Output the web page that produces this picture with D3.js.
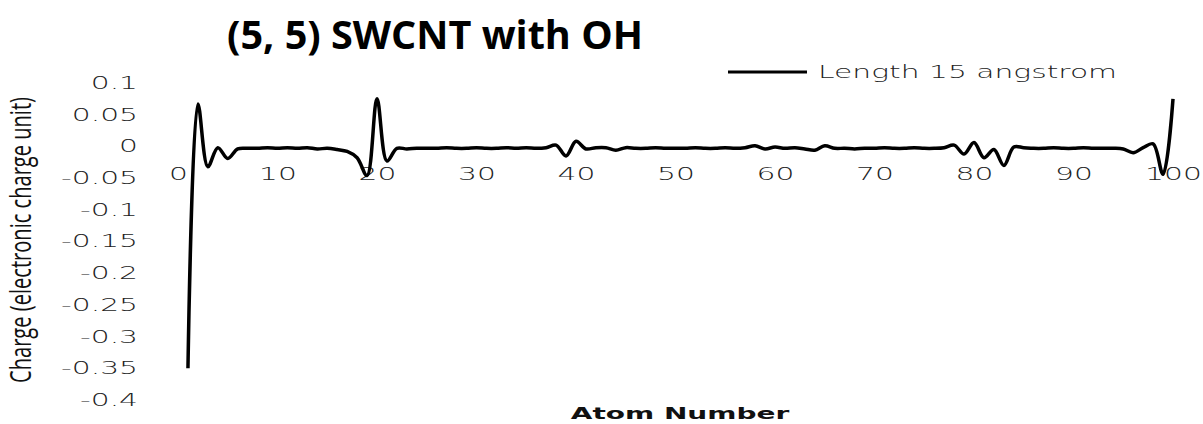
<!DOCTYPE html>
<html>
<head>
<meta charset="utf-8">
<script src="https://cdn.jsdelivr.net/npm/d3@7"></script>
<style>
  body { margin: 0; background: #fff; }
  svg { display: block; }
</style>
</head>
<body>
<div id="main"></div>
<script>
// chart data
const atomNumbers = d3.range(1, 101);
const charges = [
  -0.350, 0.067, -0.032, -0.002, -0.019, -0.004, -0.003, -0.003, -0.002, -0.003,
  -0.002, -0.003, -0.002, -0.004, -0.003, -0.005, -0.008, -0.018, -0.046, 0.075,
  -0.023, -0.003, -0.004, -0.003, -0.003, -0.003, -0.002, -0.003, -0.003, -0.002,
  -0.003, -0.003, -0.002, -0.003, -0.002, -0.003, -0.002, 0.002, -0.015, 0.008,
  -0.004, -0.002, -0.002, -0.006, -0.002, -0.003, -0.003, -0.002, -0.003, -0.003,
  -0.003, -0.002, -0.003, -0.003, -0.002, -0.003, -0.002, 0.001, -0.004, -0.001,
  -0.003, -0.002, -0.004, -0.006, 0.001, -0.003, -0.003, -0.004, -0.003, -0.003,
  -0.002, -0.003, -0.003, -0.002, -0.003, -0.003, -0.002, 0.002, -0.012, 0.006,
  -0.018, -0.005, -0.030, -0.001, -0.002, -0.003, -0.003, -0.002, -0.003, -0.003,
  -0.002, -0.003, -0.003, -0.003, -0.004, -0.010, -0.002, 0.004, -0.044, 0.075
];
const xTicks = [0, 10, 20, 30, 40, 50, 60, 70, 80, 90, 100];
const yTicks = [0.1, 0.05, 0, -0.05, -0.1, -0.15, -0.2, -0.25, -0.3, -0.35, -0.4];
const chartTitle = '(5, 5) SWCNT with OH';
const seriesName = 'Length 15 angstrom';
const xTitle = 'Atom Number';
const yTitle = 'Charge (electronic charge unit)';

const svgWidth = 1203;
const svgHeight = 424;
const stretch = 1.75; // the picture's text is widened horizontally
const labelFont = '"DejaVu Sans", sans-serif';

const dataset = atomNumbers.map((n, i) => ({ key: n, value: charges[i] }));

const svg = d3.select('#main')
  .append('svg')
  .attr('width', svgWidth)
  .attr('height', svgHeight);

const xScale = d3.scaleLinear()
  .domain([0, 100])
  .range([178, 1173]);

const yScale = d3.scaleLinear()
  .domain([-0.4, 0.1])
  .range([400, 83]);

// title
svg.append('text')
  .attr('x', 227)
  .attr('y', 49)
  .attr('textLength', 416)
  .attr('lengthAdjust', 'spacingAndGlyphs')
  .style('font-family', '"Open Sans", sans-serif')
  .style('font-weight', 'bold')
  .style('font-size', '39px')
  .attr('fill', '#000')
  .text(chartTitle);

// y axis, labels only (plain hyphen as minus, like the original)
const yAxis = svg.append('g')
  .attr('transform', `translate(${xScale(0)}, 0)`)
  .call(d3.axisLeft(yScale).tickValues(yTicks).tickSize(0).tickFormat((d) => String(+d.toFixed(2))));
yAxis.select('.domain').remove();
yAxis.selectAll('text')
  .attr('x', -40 / stretch)
  .attr('transform', `scale(${stretch}, 1)`)
  .style('font-family', labelFont)
  .style('font-weight', 300)
  .style('font-size', '17px')
  .attr('fill', '#222');

// x axis sits on zero, labels below it
const xAxis = svg.append('g')
  .attr('transform', `translate(0, ${yScale(0)})`)
  .call(d3.axisBottom(xScale).tickValues(xTicks).tickSize(0));
xAxis.select('.domain').remove();
xAxis.selectAll('text')
  .attr('y', 28)
  .attr('dy', '0.35em')
  .attr('transform', `scale(${stretch}, 1)`)
  .style('font-family', labelFont)
  .style('font-weight', 300)
  .style('font-size', '17px')
  .attr('fill', '#222');

// axis titles
svg.append('text')
  .attr('transform', `translate(680, 419) scale(${stretch}, 1)`)
  .attr('text-anchor', 'middle')
  .style('font-family', labelFont)
  .style('font-weight', 'bold')
  .style('font-size', '16px')
  .attr('fill', '#111')
  .text(xTitle);

svg.append('text')
  .attr('transform', 'translate(31, 240) rotate(-90) scale(1, 1.9)')
  .attr('text-anchor', 'middle')
  .attr('textLength', 286)
  .attr('lengthAdjust', 'spacingAndGlyphs')
  .style('font-family', '"Open Sans", sans-serif')
  .style('font-size', '15px')
  .attr('fill', '#111')
  .text(yTitle);

// the series
const line = d3.line()
  .x((d) => xScale(d.key))
  .y((d) => yScale(d.value))
  .curve(d3.curveCatmullRom);

svg.append('path')
  .datum(dataset)
  .attr('d', line)
  .attr('fill', 'none')
  .attr('stroke', '#000')
  .attr('stroke-width', 3.5)
  .attr('stroke-linejoin', 'round');

// legend
svg.append('line')
  .attr('x1', 728)
  .attr('x2', 807)
  .attr('y1', 72)
  .attr('y2', 72)
  .attr('stroke', '#000')
  .attr('stroke-width', 3);

svg.append('text')
  .attr('transform', `translate(818, 78) scale(${stretch}, 1)`)
  .style('font-family', labelFont)
  .style('font-weight', 300)
  .style('font-size', '17px')
  .attr('fill', '#222')
  .text(seriesName);
</script>
</body>
</html>
